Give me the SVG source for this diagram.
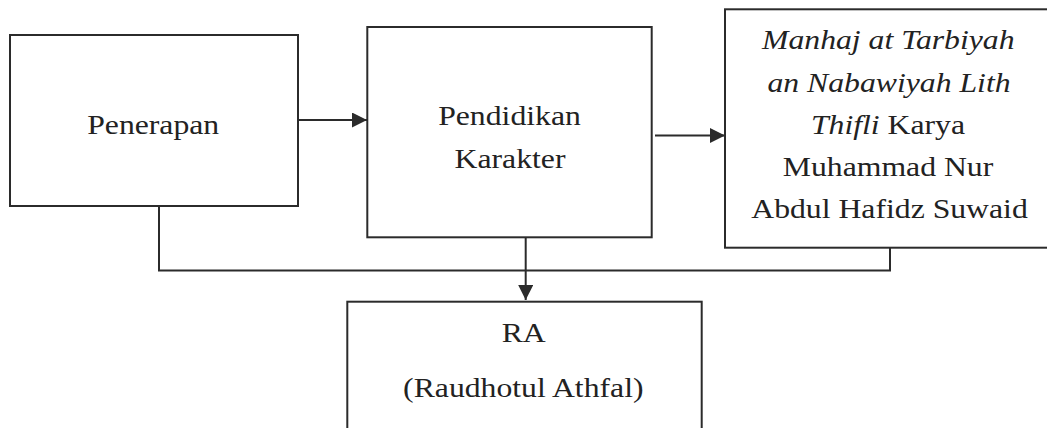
<svg xmlns="http://www.w3.org/2000/svg" width="1047" height="428" viewBox="0 0 1047 428">
<style>
.box{fill:#fff;stroke:#2b2b2b;stroke-width:2}
.ln{fill:none;stroke:#2b2b2b;stroke-width:2}
.t{font-family:"Liberation Serif","Times New Roman",serif;font-size:27px;fill:#222;text-anchor:middle}
.i{font-style:italic}
</style>
<defs>
<marker id="ah" markerUnits="userSpaceOnUse" markerWidth="15" markerHeight="15" refX="15" refY="7.5" orient="auto">
<path d="M0,0 L15,7.5 L0,15 z" fill="#2b2b2b"/>
</marker>
</defs>
<rect width="1047" height="428" fill="#fff"/>
<g id="connectors">
<path class="ln" d="M159,206 V270.5 H890 V248"/>
<line class="ln" x1="298" y1="120" x2="367" y2="120" marker-end="url(#ah)"/>
<line class="ln" x1="655" y1="135.5" x2="725" y2="135.5" marker-end="url(#ah)"/>
<line class="ln" x1="525.7" y1="237" x2="525.7" y2="300" marker-end="url(#ah)"/>
</g>
<g id="penerapan">
<rect class="box" x="10" y="35" width="288" height="171"/>
<text class="t" transform="translate(153.2,134) scale(1.175,1)">Penerapan</text>
</g>
<g id="pendidikan">
<rect class="box" x="367.3" y="27" width="284.4" height="210.3"/>
<text class="t" transform="translate(509.5,125) scale(1.175,1)">Pendidikan</text>
<text class="t" transform="translate(510,167.7) scale(1.175,1)">Karakter</text>
</g>
<g id="manhaj">
<rect class="box" x="725" y="9.3" width="340" height="238.4"/>
<text class="t i" transform="translate(888.3,49.3) scale(1.175,1)">Manhaj at Tarbiyah</text>
<text class="t i" transform="translate(889,91.5) scale(1.175,1)">an Nabawiyah Lith</text>
<text class="t" transform="translate(888,133.8) scale(1.175,1)"><tspan class="i">Thifli</tspan> Karya</text>
<text class="t" transform="translate(888,176) scale(1.175,1)">Muhammad Nur</text>
<text class="t" transform="translate(889.5,218.3) scale(1.175,1)">Abdul Hafidz Suwaid</text>
</g>
<g id="ra">
<rect class="box" x="347.3" y="301.7" width="354.4" height="140"/>
<text class="t" transform="translate(523.7,341.7) scale(1.175,1)">RA</text>
<text class="t" transform="translate(523.3,397) scale(1.175,1)">(Raudhotul Athfal)</text>
</g>
</svg>
